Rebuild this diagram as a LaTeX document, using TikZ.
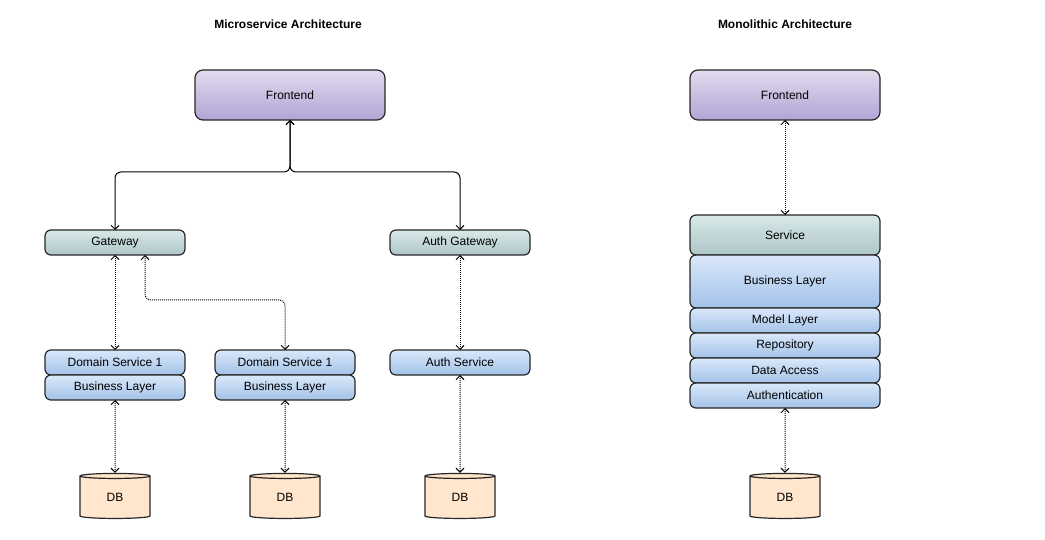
\documentclass[tikz,border=0pt]{standalone}
\usepackage{fontspec}
\setmainfont{Liberation Sans}
\usetikzlibrary{positioning, shapes.geometric, arrows.meta}

\definecolor{frontTop}{RGB}{226,218,238}
\definecolor{frontBot}{RGB}{178,164,212}
\definecolor{gateTop}{RGB}{216,232,232}
\definecolor{gateBot}{RGB}{174,198,200}
\definecolor{svcTop}{RGB}{218,232,250}
\definecolor{svcBot}{RGB}{162,194,232}
\definecolor{dbFill}{RGB}{255,230,204}
\definecolor{edgeGray}{RGB}{40,40,40}

\begin{document}
\begin{tikzpicture}[x=1pt, y=-1pt, >={Straight Barb[length=4pt,width=8pt]}, line width=1pt,
  box/.style={draw=edgeGray, line width=1.2pt, rounded corners=6pt, minimum width=140pt,
    minimum height=25pt, inner sep=0pt, outer sep=0pt, font=\fontsize{12}{14}\selectfont},
  front/.style={box, minimum width=190pt, minimum height=50pt, rounded corners=8pt,
    top color=frontTop, bottom color=frontBot},
  gate/.style={box, top color=gateTop, bottom color=gateBot},
  svc/.style={box, top color=svcTop, bottom color=svcBot},
  db/.style={cylinder, shape border rotate=90, aspect=0.3, draw=edgeGray, line width=1.2pt,
    fill=dbFill, minimum width=70pt, minimum height=45pt, inner sep=0pt,
    font=\fontsize{12}{14}\selectfont},
  link/.style={<->, dash pattern=on 1pt off 1pt},
  solidlink/.style={<->, rounded corners=6pt},
  heading/.style={font=\bfseries\fontsize{12}{14}\selectfont}]
  \useasboundingbox (0,0) rectangle (1045,540);

  % microservice side
  \node[heading] (micro) at (288,24) {Microservice Architecture};
  \node[front] (fe1) at (290,95) {Frontend};
  \node[gate] (gw) at (115,242.5) {Gateway};
  \node[gate] (agw) at (460,242.5) {Auth Gateway};
  \node[svc] (ds1) at (115,362.5) {Domain Service 1};
  \node[svc, below=0pt of ds1] (bl1) {Business Layer};
  \node[svc] (ds2) at (285,362.5) {Domain Service 1};
  \node[svc, below=0pt of ds2] (bl2) {Business Layer};
  \node[svc] (as) at (460,362.5) {Auth Service};
  \node[db] (db1) at (115,497.5) {DB};
  \node[db] (db2) at (285,497.5) {DB};
  \node[db] (db3) at (460,497.5) {DB};

  % monolithic side
  \node[heading] (mono) at (785,24) {Monolithic Architecture};
  \node[front] (fe2) at (785,95) {Frontend};
  \node[gate, minimum width=190pt, minimum height=40pt] (srv) at (785,235) {Service};
  \node[svc, minimum width=190pt, minimum height=53pt, below=0pt of srv] (mbl) {Business Layer};
  \node[svc, minimum width=190pt, below=0pt of mbl] (model) {Model Layer};
  \node[svc, minimum width=190pt, below=0pt of model] (repo) {Repository};
  \node[svc, minimum width=190pt, below=0pt of repo] (dacc) {Data Access};
  \node[svc, minimum width=190pt, below=0pt of dacc] (authn) {Authentication};
  \node[db] (db4) at (785,497.5) {DB};

  \draw[solidlink] (fe1.south) -- ++(0,52) -| (gw.north);
  \draw[solidlink] (fe1.south) -- ++(0,52) -| (agw.north);
  \draw[link, rounded corners=6pt] ([xshift=30pt]gw.south) -- ++(0,45) -| (ds2.north);
  \path[every edge/.style={draw, link}]
    (gw) edge (ds1)
    (bl1) edge (db1)
    (bl2) edge (db2)
    (agw) edge (as)
    (as) edge (db3)
    (fe2) edge (srv)
    (authn) edge (db4);
\end{tikzpicture}
\end{document}
